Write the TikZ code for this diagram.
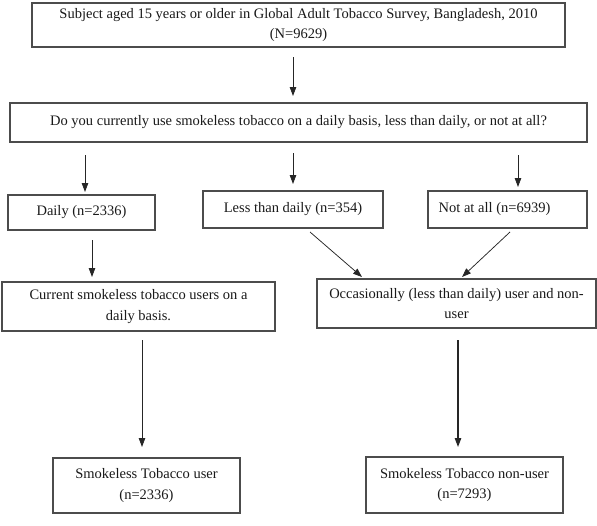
\documentclass[tikz,border=0pt]{standalone}
\usepackage{fontspec}
\setmainfont{Liberation Serif}
\usetikzlibrary{arrows.meta}
\begin{document}
\begin{tikzpicture}[x=1pt,y=-1pt,
  box/.style={draw=black!70, line width=1.2pt, inner sep=0pt, align=center,
    font=\fontsize{14.5}{20.5}\selectfont, text=black!90},
  arr/.style={-{Triangle[length=9pt,width=6.5pt]}, line width=0.75pt, black!85}]
\useasboundingbox (0,0) rectangle (597,525);
\node[box, minimum width=533pt, minimum height=44pt] (top) at (298.5,25)
  {Subject aged 15 years or older in Global Adult Tobacco Survey, Bangladesh, 2010\\(N=9629)};
\node[box, minimum width=577pt, minimum height=39pt] (q) at (298.5,122.5)
  {Do you currently use smokeless tobacco on a daily basis, less than daily, or not at all?};
\node[box, minimum width=147pt, minimum height=35pt] (daily) at (81.5,212.5) {Daily (n=2336)};
\node[box, minimum width=180pt, minimum height=37pt] (less) at (293,209.5) {Less than daily (n=354)};
\node[box, minimum width=159pt, minimum height=37pt] (notat) at (507.5,209.5) {Not at all (n=6939)\hspace*{26pt}};
\node[box, minimum width=273pt, minimum height=49pt] (cur) at (138.5,306.5)
  {Current smokeless tobacco users on a\\daily basis.};
\node[box, minimum width=279pt, minimum height=49pt] (occ) at (456.5,303.5)
  {Occasionally (less than daily) user and non-\\user};
\node[box, minimum width=187pt, minimum height=55pt] (user) at (146.5,485.5)
  {Smokeless Tobacco user\\(n=2336)};
\node[box, minimum width=197pt, minimum height=56pt] (non) at (464.5,485)
  {Smokeless Tobacco non-user\\(n=7293)};
% connector end points
\coordinate (a1s) at (293,57);  \coordinate (a1e) at (293,96);
\coordinate (a2s) at (85,155);  \coordinate (a2e) at (85,192);
\coordinate (a3s) at (293,153); \coordinate (a3e) at (293,184);
\coordinate (a4s) at (518,155); \coordinate (a4e) at (518,187);
\coordinate (a5s) at (92,240);  \coordinate (a5e) at (92,277);
\coordinate (a6s) at (310,232); \coordinate (a6e) at (362,277);
\coordinate (a7s) at (510,232); \coordinate (a7e) at (462,277);
\coordinate (a8s) at (142,340); \coordinate (a8e) at (142,447);
\coordinate (a9s) at (458,340); \coordinate (a9e) at (458,447);
\draw[arr] (a1s) -- (a1e);
\draw[arr] (a2s) -- (a2e);
\draw[arr] (a3s) -- (a3e);
\draw[arr] (a4s) -- (a4e);
\draw[arr] (a5s) -- (a5e);
\draw[arr] (a6s) -- (a6e);
\draw[arr] (a7s) -- (a7e);
\draw[arr] (a8s) -- (a8e);
\draw[arr, line width=1.2pt] (a9s) -- (a9e);
\end{tikzpicture}
\end{document}
